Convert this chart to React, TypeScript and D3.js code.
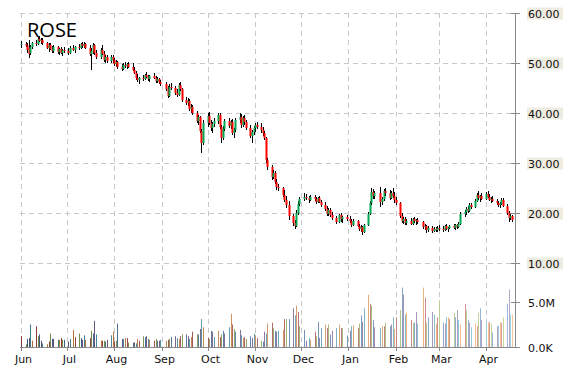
import React from "react";
import * as d3 from "d3";

const ticker = "ROSE";
const firstDay = "2018-06-01";
const lastDay = "2019-04-18";
const holidays = ["2018-07-04", "2018-09-03", "2018-11-22", "2018-12-05", "2018-12-25", "2019-01-01", "2019-01-21", "2019-02-18"];
const monthTicks = ["2018-06-01", "2018-07-01", "2018-08-01", "2018-09-01", "2018-10-01", "2018-11-01", "2018-12-01", "2019-01-01", "2019-02-01", "2019-03-01", "2019-04-01"];
const monthLabels = ["Jun", "Jul", "Aug", "Sep", "Oct", "Nov", "Dec", "Jan", "Feb", "Mar", "Apr"];
const priceTicks = [10, 20, 30, 40, 50, 60];
const volumeTicks = [0, 5];
const volumeTickLabels = ["0.0K", "5.0M"];

// [open, high, low, close] per trading day
const jun = [[53.6,54.4,53.0,53.8],[53.8,54.2,53.2,53.5],[53.5,54.0,52.0,52.6],[53.0,54.6,51.0,51.8],[52.0,53.6,51.6,53.2],[53.2,54.2,52.8,54.0],[54.0,54.6,53.4,53.8],[53.8,55.2,53.6,54.8],[54.8,55.4,54.2,54.4],[54.4,55.0,53.8,54.6],[54.6,55.0,53.6,54.0],[54.0,54.2,52.8,53.0],[53.0,54.0,52.2,53.6],[53.6,54.0,52.6,52.8],[52.8,53.4,52.0,52.4],[52.4,53.6,52.0,53.2],[53.2,53.4,51.8,52.2],[52.2,53.0,51.6,52.8],[52.8,53.2,51.8,52.0],[52.0,52.8,51.4,52.6],[52.6,53.2,52.0,52.4]];
const jul = [[52.4,53.0,51.6,52.0],[52.0,53.4,51.8,53.0],[53.0,53.6,52.4,52.6],[52.6,53.4,52.0,53.2],[53.2,53.8,52.6,53.0],[53.0,54.0,52.8,53.8],[53.8,54.2,53.0,53.4],[53.4,54.2,53.0,53.8],[53.8,54.0,52.8,53.0],[53.0,53.6,51.4,51.8],[51.8,53.0,48.6,52.4],[52.4,54.0,51.8,53.6],[53.6,53.8,51.6,52.0],[52.0,52.6,50.8,51.2],[51.2,53.0,50.8,52.6],[52.6,53.6,51.6,51.8],[51.8,52.4,50.2,50.6],[50.6,51.6,50.0,51.2],[51.2,51.6,50.0,50.4],[50.4,51.6,50.0,51.2],[51.2,51.6,50.0,50.6]];
const aug = [[50.6,51.0,49.4,49.8],[49.8,50.6,49.2,50.2],[50.2,50.4,48.8,49.2],[49.2,49.8,48.4,48.8],[48.8,50.0,48.6,49.6],[49.6,50.2,49.0,49.4],[49.4,50.0,48.8,49.8],[49.8,50.2,49.0,49.2],[49.2,50.0,48.4,48.6],[48.6,49.2,47.8,48.0],[48.0,48.4,46.6,47.0],[47.0,47.8,46.2,46.6],[46.6,47.2,45.8,47.0],[47.0,47.6,46.4,46.8],[46.8,47.8,46.6,47.6],[47.6,48.2,47.0,47.2],[47.2,47.6,46.4,46.8],[46.8,47.6,46.2,47.4],[47.4,48.0,46.8,47.0],[47.0,47.4,46.0,46.4],[46.4,47.2,46.0,46.8],[46.8,47.0,45.8,46.2],[46.2,46.6,45.4,45.8]];
const sep = [[45.8,46.2,44.4,44.8],[44.8,45.4,43.0,43.4],[43.4,45.8,43.2,45.2],[45.2,46.0,44.6,45.0],[45.0,45.4,43.6,44.0],[44.0,44.8,43.2,43.6],[43.6,46.0,43.4,45.6],[45.6,46.2,44.4,44.8],[44.8,45.0,42.2,42.6],[42.6,43.2,41.6,42.0],[42.0,43.0,41.4,42.4],[42.4,42.8,40.4,40.8],[40.8,41.8,40.0,41.2],[41.2,41.6,39.6,40.0],[40.0,40.4,38.0,38.4],[38.4,39.6,37.6,39.2],[39.2,39.4,36.0,36.4],[36.4,36.8,32.0,34.0],[34.0,38.6,33.6,38.0]];
const oct = [[38.0,40.0,37.2,39.4],[39.4,40.2,37.6,38.0],[38.0,38.6,36.4,37.0],[37.0,38.2,36.0,37.8],[37.8,39.0,37.2,38.4],[38.4,40.0,37.8,39.6],[39.6,40.0,36.8,37.2],[37.2,37.6,34.0,35.0],[35.0,37.4,34.6,36.8],[36.8,38.8,36.4,38.4],[38.4,39.0,37.0,37.4],[37.4,38.6,36.8,38.2],[38.2,38.8,35.6,36.0],[36.0,37.0,35.0,36.6],[36.6,39.0,36.2,38.6],[38.6,40.0,38.0,39.2],[39.2,39.8,37.0,37.6],[37.6,39.4,37.2,39.0],[39.0,39.6,37.6,38.2],[38.2,38.6,36.6,37.0],[37.0,37.6,35.0,35.4],[35.4,36.6,34.0,36.2],[36.2,37.4,35.6,37.0]];
const nov = [[37.0,38.0,36.2,37.6],[37.6,38.2,36.8,37.2],[37.2,38.0,36.0,36.6],[36.6,37.2,35.4,36.0],[36.0,36.4,34.6,35.0],[35.0,35.2,30.0,30.6],[30.6,31.0,28.6,29.2],[29.2,29.6,26.6,27.2],[27.2,28.6,26.8,28.0],[28.0,28.4,25.8,26.2],[26.2,26.8,24.6,25.2],[25.2,25.8,24.4,25.0],[25.0,25.2,23.2,23.6],[23.6,24.6,22.2,22.6],[22.6,23.4,21.0,21.6],[21.6,22.4,18.6,19.4],[19.4,19.8,17.4,18.0],[18.0,18.6,16.8,17.4],[17.4,20.6,17.2,20.0],[20.0,22.4,19.6,21.8],[21.8,23.2,21.4,22.8]];
const dec = [[22.8,24.0,22.4,23.2],[23.2,23.8,22.6,23.0],[23.0,23.4,22.0,22.6],[22.6,23.6,22.4,23.2],[23.2,23.6,22.4,22.8],[22.8,23.2,21.8,22.2],[22.2,23.2,22.0,23.0],[23.0,23.4,22.0,22.2],[22.2,22.6,21.2,21.6],[21.6,22.2,20.4,20.8],[20.8,21.4,19.4,19.8],[19.8,21.0,19.4,20.6],[20.6,21.0,19.2,19.6],[19.6,20.2,18.6,19.0],[19.0,19.4,17.8,18.2],[18.2,19.8,18.0,19.6],[19.6,20.0,18.2,18.8],[18.8,19.4,18.0,19.2],[19.2,19.6,18.4,18.8]];
const jan = [[18.8,19.4,18.0,18.4],[18.4,18.8,17.2,17.6],[17.6,18.8,17.4,18.4],[18.4,18.6,17.2,17.4],[17.4,17.8,16.4,16.8],[16.8,17.6,16.2,17.2],[17.2,17.4,15.6,16.2],[16.2,17.8,16.0,17.6],[17.6,20.2,17.4,19.8],[19.8,22.4,19.6,22.0],[22.0,25.0,21.6,24.2],[24.2,24.8,22.8,23.4],[23.4,24.4,22.8,24.0],[24.0,25.2,21.2,22.2],[22.2,23.2,21.6,22.8],[22.8,24.8,22.4,24.4],[24.4,25.0,23.4,24.0],[24.0,24.6,22.6,23.0],[23.0,24.4,22.8,24.0],[24.0,25.0,23.0,23.4],[23.4,24.2,22.0,22.6]];
const feb = [[22.6,23.2,21.6,22.0],[22.0,22.2,19.0,19.4],[19.4,20.0,18.0,18.4],[18.4,19.2,17.8,18.8],[18.8,19.2,17.6,18.0],[18.0,18.8,17.6,18.4],[18.4,19.0,17.6,17.8],[17.8,19.0,17.6,18.8],[18.8,19.2,18.0,18.4],[18.4,18.8,17.6,18.6],[18.6,19.0,17.8,18.2],[18.2,18.4,16.8,17.2],[17.2,17.8,16.6,17.4],[17.4,17.6,16.0,16.6],[16.6,17.4,16.2,17.0],[17.0,17.4,16.0,16.4],[16.4,17.2,16.2,16.8],[16.8,17.2,16.2,16.6],[16.6,17.4,16.2,17.0]];
const mar = [[17.0,17.6,16.4,16.8],[16.8,17.4,16.2,16.6],[16.6,17.6,16.4,17.4],[17.4,17.8,16.6,16.8],[16.8,17.2,16.2,17.0],[17.0,17.6,16.8,17.4],[17.4,17.8,16.8,17.0],[17.0,17.8,16.6,17.6],[17.6,17.8,16.8,17.2],[17.2,18.2,17.0,17.8],[17.8,20.2,17.6,19.8],[19.8,20.6,19.2,20.2],[20.2,21.2,19.6,20.8],[20.8,21.4,20.0,20.4],[20.4,22.0,20.2,21.6],[21.6,22.0,20.8,21.2],[21.2,22.8,21.0,22.4],[22.4,24.0,22.2,23.6],[23.6,24.4,22.6,23.0],[23.0,23.6,22.2,23.4],[23.4,24.0,22.6,22.8]];
const apr = [[22.8,24.2,22.6,23.8],[23.8,24.4,23.0,23.2],[23.2,23.8,22.4,22.6],[22.6,23.2,22.0,22.8],[22.8,23.4,22.2,22.4],[22.4,22.8,21.6,22.0],[22.0,22.4,21.2,21.6],[21.6,22.2,21.0,21.8],[21.8,23.0,21.6,22.6],[22.6,23.0,21.2,21.4],[21.4,21.8,19.6,20.0],[20.0,20.4,18.2,19.0],[19.0,19.8,18.6,19.4],[19.4,19.6,18.2,18.6]];

// volume in millions of shares
const volJun = [1.2, 0.3, 0.9, 1.0, 2.5, 0.7, 2.3, 1.2, 1.4, 0.7, 0.4, 0.3, 0.6, 1.5, 0.9, 0.9, 0.8, 0.8, 1.0, 0.8, 0.8];
const volJul = [0.6, 0.9, 1.9, 1.1, 1.5, 1.0, 0.8, 1.3, 0.8, 1.0, 1.8, 1.5, 2.9, 1.4, 0.7, 0.7, 0.7, 0.6, 0.8, 1.3, 1.7];
const volAug = [0.6, 0.7, 2.6, 0.9, 0.9, 1.0, 1.0, 0.5, 0.5, 0.5, 0.4, 0.9, 0.7, 1.2, 1.1, 1.2, 0.9, 0.8, 0.7, 0.9, 0.7, 0.7, 0.8];
const volSep = [0.7, 0.8, 0.9, 1.1, 1.2, 1.0, 0.9, 1.2, 1.4, 1.4, 1.2, 0.9, 1.1, 1.7, 1.4, 1.4, 2.0, 3.1, 2.2];
const volOct = [1.0, 0.9, 1.8, 1.7, 1.1, 1.8, 1.1, 1.4, 1.8, 1.5, 2.2, 3.7, 2.5, 2.0, 1.7, 1.9, 1.3, 1.0, 1.1, 0.9, 1.2, 1.0, 1.5];
const volNov = [1.3, 1.0, 0.7, 0.6, 1.7, 1.5, 2.6, 2.7, 2.1, 1.8, 1.7, 1.8, 1.9, 3.1, 3.1, 3.1, 4.3, 3.5, 4.6, 3.9, 2.3];
const volDec = [1.9, 0.7, 1.0, 0.8, 1.7, 1.2, 2.8, 1.0, 2.1, 2.5, 2.1, 2.5, 1.4, 1.8, 2.1, 2.5, 2.1, 2.1, 1.3];
const volJan = [1.8, 2.3, 2.4, 2.1, 2.6, 3.5, 2.8, 4.3, 5.8, 4.8, 4.6, 3.0, 2.2, 2.1, 2.3, 2.3, 2.7, 2.3, 2.5, 3.3, 2.0];
const volFeb = [3.3, 4.1, 6.6, 5.8, 3.6, 3.8, 3.0, 2.7, 2.7, 3.9, 2.6, 6.6, 5.5, 2.7, 3.3, 3.9, 3.6, 2.6, 3.3];
const volMar = [5.2, 2.7, 2.6, 3.3, 3.3, 3.1, 3.8, 3.3, 4.1, 3.0, 2.5, 4.8, 4.1, 3.0, 2.7, 2.2, 2.6, 2.3, 3.8, 4.3, 3.0];
const volApr = [2.8, 2.7, 2.8, 2.6, 1.6, 2.3, 2.4, 2.7, 2.7, 3.3, 4.8, 6.4, 3.6, 3.6];

const volumePalette = ["#C0504D", "#9BBB59", "#4F81BD", "#8064A2", "#4BACC6", "#F79646"];

const W = 570;
const H = 370;

export default function App() {
  const parse = d3.utcParse("%Y-%m-%d");
  const hol = new Set(holidays);
  const fmt = d3.utcFormat("%Y-%m-%d");
  const days = d3.utcDay
    .range(parse(firstDay)!, d3.utcDay.offset(parse(lastDay)!, 1))
    .filter((d) => d.getUTCDay() !== 0 && d.getUTCDay() !== 6 && !hol.has(fmt(d)));

  const ohlc = [...jun, ...jul, ...aug, ...sep, ...oct, ...nov, ...dec, ...jan, ...feb, ...mar, ...apr];
  const vols = [...volJun, ...volJul, ...volAug, ...volSep, ...volOct, ...volNov, ...volDec, ...volJan, ...volFeb, ...volMar, ...volApr];
  const n = Math.min(days.length, ohlc.length);

  const x = d3.scaleUtc().domain([parse("2018-06-01")!, parse("2019-04-01")!]).range([21, 486]);
  const y = d3.scaleLinear().domain([0, 60]).range([313, 13]);
  const yv = d3.scaleLinear().domain([0, 5]).range([347, 302]);

  const plotL = 20;
  const axisX = 515;

  const volColor = (i: number) => {
    const base = d3.rgb(volumePalette[i % volumePalette.length]);
    const t = i / (vols.length - 1);
    const dark = d3.interpolateRgb(base, "#000")(0.3);
    const light = d3.interpolateRgb(base, "#fff")(0.45);
    return d3.interpolateRgb(dark, light)(t);
  };

  const labelFont = "'DejaVu Sans', Verdana, sans-serif";

  return (
    <svg width={W} height={H} style={{ position: "absolute", left: 0, top: 0, background: "#fff" }}>
      {/* grid */}
      <g stroke="#c8c8c8" strokeDasharray="5,4" strokeWidth={1}>
        {priceTicks.map((t) => (
          <line key={"h" + t} x1={plotL} x2={axisX} y1={Math.round(y(t)) + 0.5} y2={Math.round(y(t)) + 0.5} />
        ))}
        {monthTicks.map((m) => {
          const xx = Math.round(x(parse(m)!)) + 0.5;
          return <line key={"v" + m} x1={xx} x2={xx} y1={13} y2={347} />;
        })}
      </g>

      {/* volume */}
      <g>
        {vols.slice(0, n).map((v, i) => (
          <rect key={"vol" + i} x={Math.round(x(days[i]))} y={yv(v)} width={1} height={yv(0) - yv(v)} fill={volColor(i)} />
        ))}
      </g>

      {/* candles */}
      <g>
        {ohlc.slice(0, n).map(([o, h, l, c], i) => {
          const cx = Math.round(x(days[i]));
          const top = y(Math.max(o, c));
          const bot = y(Math.min(o, c));
          return (
            <g key={"c" + i}>
              <line x1={cx + 0.5} x2={cx + 0.5} y1={y(h)} y2={y(l)} stroke="#000" strokeWidth={1} />
              <rect x={cx - 0.5} y={top} width={2} height={Math.max(1, bot - top)} fill={c >= o ? "#00a651" : "#ff0000"} />
            </g>
          );
        })}
      </g>

      {/* axes */}
      <line x1={axisX + 0.5} x2={axisX + 0.5} y1={13} y2={347} stroke="#888" />
      <line x1={plotL} x2={axisX} y1={347.5} y2={347.5} stroke="#888" />
      {monthTicks.map((m, i) => {
        const xx = Math.round(x(parse(m)!)) + 0.5;
        return (
          <g key={"mt" + m}>
            <line x1={xx} x2={xx} y1={347} y2={351} stroke="#888" />
            <text x={xx + 2} y={363} textAnchor="middle" fontFamily={labelFont} fontSize={11} fill="#111">
              {monthLabels[i]}
            </text>
          </g>
        );
      })}
      {priceTicks.map((t) => {
        const yy = Math.round(y(t)) + 0.5;
        return (
          <g key={"pt" + t}>
            <line x1={axisX - 4} x2={axisX + 5} y1={yy} y2={yy} stroke="#888" />
            <rect x={527} y={yy - 6} width={36} height={12} fill="#eeebe0" />
            <text x={528} y={yy + 4} fontFamily={labelFont} fontSize={11} fill="#111">
              {d3.format(".2f")(t)}
            </text>
          </g>
        );
      })}
      {volumeTicks.map((t, i) => {
        const yy = Math.round(yv(t)) + 0.5;
        return (
          <g key={"vt" + t}>
            <line x1={axisX - 4} x2={axisX + 5} y1={yy} y2={yy} stroke="#888" />
            <text x={528} y={yy + 4} fontFamily={labelFont} fontSize={11} fill="#111">
              {volumeTickLabels[i]}
            </text>
          </g>
        );
      })}

      <text x={27} y={37} fontFamily="'Open Sans', 'Noto Sans', sans-serif" fontSize={20} fill="#000">
        {ticker}
      </text>
    </svg>
  );
}
